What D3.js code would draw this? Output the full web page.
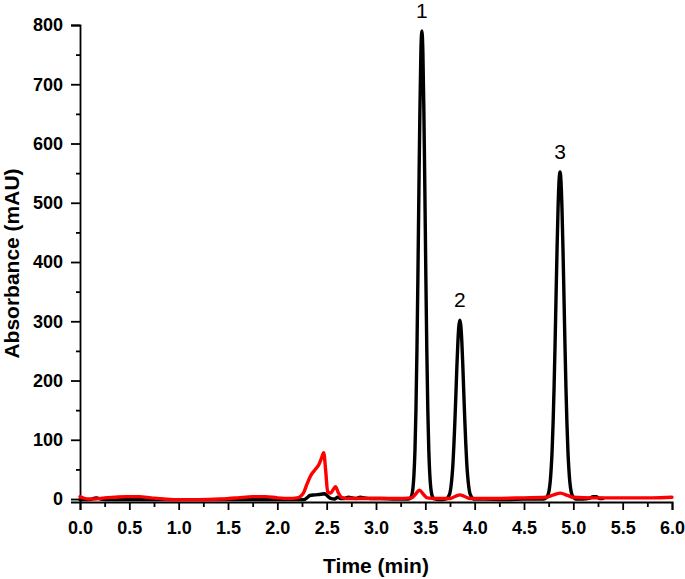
<!DOCTYPE html>
<html>
<head>
<meta charset="utf-8">
<script src="https://cdn.jsdelivr.net/npm/d3@7"></script>
<style>
  html, body { margin: 0; padding: 0; background: #fff; }
  svg { display: block; }
  text { font-family: "Liberation Sans", Arial, sans-serif; }
</style>
</head>
<body>
<svg id="chart" width="685" height="579"></svg>
<script>
// ---------------- data ----------------
// Black trace (sample chromatogram): [time (min), absorbance (mAU)]
const blackSeries = [
  [0.00,-1],[0.10,-1],[0.14,1],[0.17,2],[0.21,0],[0.30,-1],[0.60,-1],[0.90,-1],
  [1.20,-1],[1.50,-1],[1.80,-1],[2.10,-1],[2.27,-1],[2.30,2],[2.33,6],[2.38,7],
  [2.44,8],[2.48,9],[2.51,5],[2.54,1],[2.58,0],[2.61,3],[2.64,1],[2.68,1],
  [2.72,3],[2.76,2],[2.80,1],[2.84,3],[2.88,2],[2.95,1],[3.05,1],[3.20,0],
  [3.325,0],[3.345,1],[3.355,3],[3.365,8],[3.375,19],[3.385,42],[3.395,83],
  [3.405,151],[3.415,251],[3.425,379],[3.435,523],[3.445,657],[3.455,755],
  [3.46,781],[3.465,790],[3.47,781],[3.475,755],[3.485,657],[3.495,523],
  [3.505,379],[3.515,251],[3.525,151],[3.535,83],[3.545,42],[3.555,19],
  [3.565,8],[3.575,3],[3.585,1],[3.605,0],[3.65,-1],[3.70,0],
  [3.72,1],[3.73,3],[3.74,6],[3.75,11],[3.76,21],[3.77,37],[3.78,60],[3.79,93],
  [3.80,133],[3.81,178],[3.82,225],[3.83,265],[3.84,292],[3.85,302],[3.86,292],
  [3.87,265],[3.88,225],[3.89,178],[3.90,133],[3.91,93],[3.92,60],[3.93,37],
  [3.94,21],[3.95,11],[3.96,6],[3.97,3],[3.98,1],[4.00,0],
  [4.10,0],[4.30,-1],[4.50,0],[4.70,0],
  [4.725,2],[4.735,4],[4.745,8],[4.755,15],[4.765,28],[4.775,50],[4.785,82],
  [4.795,129],[4.805,189],[4.815,262],[4.825,343],[4.835,422],[4.845,490],
  [4.855,536],[4.865,552],[4.875,536],[4.885,490],[4.895,422],[4.905,343],
  [4.915,262],[4.925,189],[4.935,129],[4.945,82],[4.955,50],[4.965,28],
  [4.975,15],[4.985,8],[4.995,4],[5.005,2],[5.025,0],
  [5.10,0],[5.16,1],[5.20,4],[5.23,4],[5.27,1],[5.30,1]
];

// Red trace (blank): [time (min), absorbance (mAU)]
const redSeries = [
  [0.00,4],[0.03,2],[0.08,0],[0.15,0],[0.25,2],[0.35,3],[0.47,4],[0.60,4],
  [0.72,2],[0.85,0],[0.95,-1],[1.20,-1],[1.42,0],[1.60,2],[1.75,4],[1.88,4],
  [2.00,2],[2.12,1],[2.20,2],[2.24,5],[2.27,12],[2.30,25],[2.34,40],[2.38,49],
  [2.42,58],[2.45,70],[2.47,78],[2.49,48],[2.51,12],[2.54,10],[2.57,17],
  [2.59,21],[2.62,10],[2.65,3],[2.70,1],[2.80,1],[3.00,1],[3.20,1],[3.36,2],
  [3.40,8],[3.44,15],[3.48,8],[3.52,2],[3.60,1],[3.75,1],[3.81,5],[3.85,7],
  [3.89,5],[3.95,1],[4.20,1],[4.50,2],[4.72,3],[4.80,7],[4.87,10],[4.94,6],
  [5.00,3],[5.20,2],[5.50,2],[5.80,2],[6.00,3]
];

const xMajorTicks = [0,0.5,1,1.5,2,2.5,3,3.5,4,4.5,5,5.5,6];
const xMinorTicks = [0.25,0.75,1.25,1.75,2.25,2.75,3.25,3.75,4.25,4.75,5.25,5.75];
const yMajorTicks = [0,100,200,300,400,500,600,700,800];
const yMinorTicks = [50,150,250,350,450,550,650,750];

const peakLabels = ["1","2","3"];
const peakTimes = [3.465, 3.85, 4.865];
const peakHeights = [790, 302, 552];

const xTitle = "Time (min)";
const yTitle = "Absorbance (mAU)";

// ---------------- chart ----------------
const svg = d3.select("#chart");
const x = d3.scaleLinear().domain([0, 6]).range([80, 672]);
const y = d3.scaleLinear().domain([-5, 800]).range([502, 25]);

const axisStroke = 1.8;

// X axis
const gx = svg.append("g").attr("transform", `translate(0,${y(-5)})`)
  .call(d3.axisBottom(x).tickValues(xMajorTicks).tickSizeOuter(0)
    .tickSize(8).tickPadding(11).tickFormat(d3.format(".1f")));
gx.append("g")
  .call(d3.axisBottom(x).tickValues(xMinorTicks).tickSize(5).tickFormat(""))
  .select(".domain").remove();

// Y axis
const gy = svg.append("g").attr("transform", `translate(${x(0)},0)`)
  .call(d3.axisLeft(y).tickValues(yMajorTicks).tickSizeOuter(0)
    .tickSize(9).tickPadding(8));
gy.append("g")
  .call(d3.axisLeft(y).tickValues(yMinorTicks).tickSize(4).tickFormat(""))
  .select(".domain").remove();

svg.selectAll(".domain, .tick line")
  .attr("stroke", "#000").attr("stroke-width", axisStroke);
svg.selectAll(".tick text")
  .attr("fill", "#000")
  .style("font-family", "'Liberation Sans', Arial, sans-serif")
  .style("font-size", "18px").style("font-weight", "bold");

// Lines
const line = d3.line()
  .x(d => x(d[0])).y(d => y(d[1]))
  .curve(d3.curveMonotoneX);

svg.append("path").datum(blackSeries)
  .attr("d", line).attr("fill", "none")
  .attr("stroke", "#000").attr("stroke-width", 3.4)
  .attr("stroke-linejoin", "round").attr("stroke-linecap", "round");

svg.append("path").datum(redSeries)
  .attr("d", line).attr("fill", "none")
  .attr("stroke", "#ff0000").attr("stroke-width", 3.4)
  .attr("stroke-linejoin", "round").attr("stroke-linecap", "round");

// Peak labels
svg.selectAll(".peak-label").data(peakLabels).enter().append("text")
  .attr("class", "peak-label")
  .attr("x", (d, i) => x(peakTimes[i]))
  .attr("y", (d, i) => y(peakHeights[i]) - 13)
  .attr("text-anchor", "middle")
  .style("font-size", "21px")
  .attr("fill", "#000")
  .text(d => d);

// Axis titles
svg.append("text")
  .attr("x", (x(0) + x(6)) / 2).attr("y", 573)
  .attr("text-anchor", "middle")
  .style("font-size", "21px").style("font-weight", "bold")
  .text(xTitle);

svg.append("text")
  .attr("transform", `translate(19,${(y(-5) + y(800)) / 2}) rotate(-90)`)
  .attr("text-anchor", "middle")
  .style("font-size", "21px").style("font-weight", "bold")
  .text(yTitle);
</script>
</body>
</html>
